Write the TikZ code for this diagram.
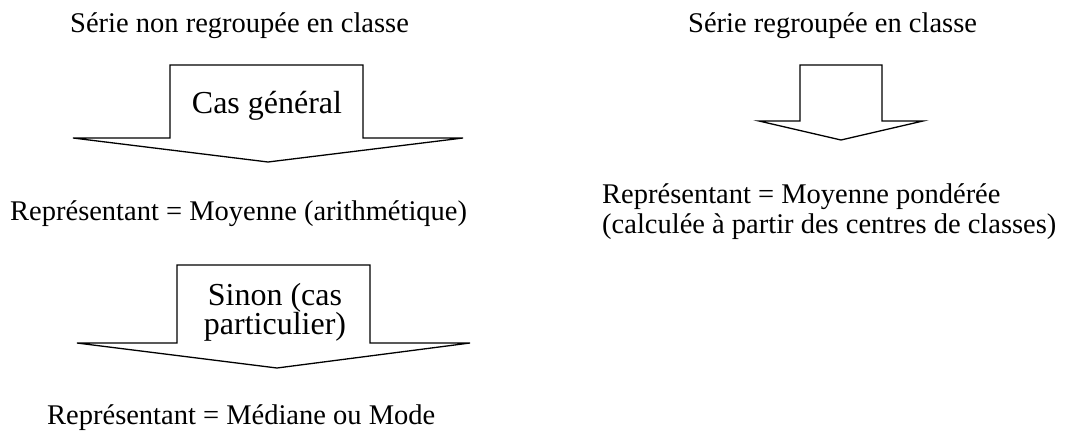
\documentclass[tikz,border=0pt]{standalone}
\usepackage{fontspec}
\setmainfont{Liberation Serif}
\begin{document}
\begin{tikzpicture}[x=1pt,y=-1pt,
  lbl/.style={anchor=base west,inner sep=0pt,font=\fontsize{28.5}{32}\selectfont},
  big/.style={anchor=base,inner sep=0pt,font=\fontsize{32}{34}\selectfont,align=center},
  blockarrow/.style={draw=black,line width=1.3pt,line join=miter,fill=white}]
\useasboundingbox (0,0) rectangle (1076,436);
% arrows
\draw[blockarrow] (170,65) -- (363,65) -- (363,138) -- (463,138) -- (268,162) -- (73,138) -- (170,138) -- cycle;
\draw[blockarrow] (177,265) -- (370,265) -- (370,343) -- (470,343) -- (277,368) -- (77,343) -- (177,343) -- cycle;
\draw[blockarrow] (800,65) -- (882,65) -- (882,121) -- (923,121) -- (841,140) -- (759,121) -- (800,121) -- cycle;
% texts
\node[lbl] (t1) at (70,33) {Série non regroupée en classe};
\node[lbl] (t2) at (688,33) {Série regroupée en classe};
\node[big] (cg) at (267,113) {Cas général};
\node[lbl] (r1) at (10,220) {Représentant = Moyenne (arithmétique)};
\node[lbl] (r2) at (602,203) {Représentant = Moyenne pondérée};
\node[lbl] (r3) at (602,233) {(calculée à partir des centres de classes)};
\node[big] (sn) at (275,305) {Sinon (cas};
\node[big] (sp) at (275,334) {particulier)};
\node[lbl] (r4) at (47,424) {Représentant = Médiane ou Mode};
\end{tikzpicture}
\end{document}
